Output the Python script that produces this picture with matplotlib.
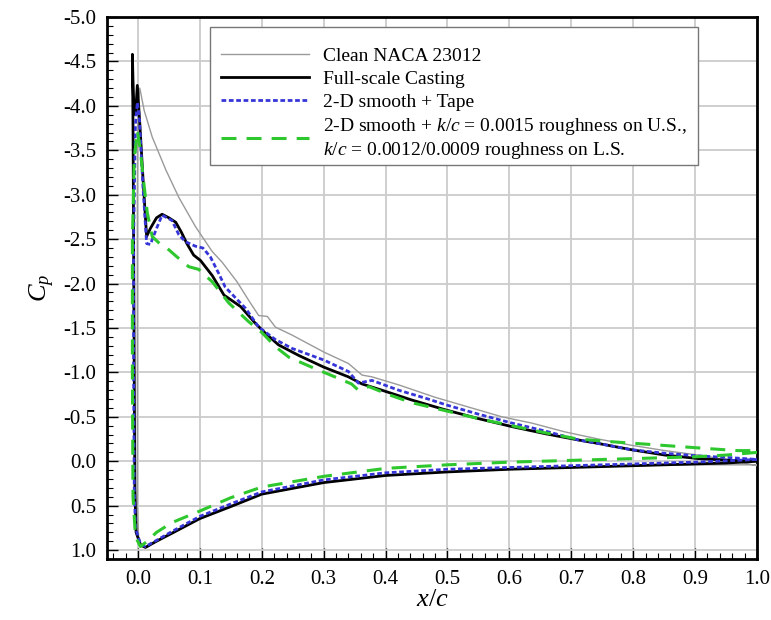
import matplotlib
matplotlib.use("Agg")
import matplotlib.pyplot as plt
from matplotlib.ticker import MultipleLocator, FormatStrFormatter
from matplotlib.patches import Rectangle

plt.rcParams['font.family'] = ['Liberation Serif', 'DejaVu Serif']
plt.rcParams['mathtext.fontset'] = 'custom'
plt.rcParams['mathtext.rm'] = 'Liberation Serif'
plt.rcParams['mathtext.it'] = 'Liberation Serif:italic'
plt.rcParams['axes.unicode_minus'] = False

# Path for each series: trailing edge (lower) -> leading edge -> trailing edge (upper)
clean_x = [1.0, 0.9, 0.8, 0.7, 0.6, 0.5, 0.4, 0.3, 0.2, 0.15, 0.1, 0.055, 0.03, 0.015, 0.006, 0.001,
           -0.001, -0.001, -0.001, 0.0, 0.003, 0.01, 0.023, 0.045, 0.066, 0.093, 0.12, 0.136, 0.16,
           0.179, 0.195, 0.209, 0.222, 0.249, 0.30, 0.34, 0.362, 0.378, 0.421, 0.48, 0.534, 0.588,
           0.636, 0.69, 0.744, 0.797, 0.851, 0.905, 0.959, 1.0]
clean_cp = [0.04, 0.04, 0.05, 0.07, 0.09, 0.12, 0.16, 0.24, 0.37, 0.50, 0.64, 0.80, 0.89, 0.97, 0.96, 0.85,
            0.5, -1.0, -3.0, -4.0, -4.20, -3.95, -3.65, -3.28, -2.97, -2.64, -2.36, -2.24, -2.02,
            -1.81, -1.64, -1.63, -1.51, -1.42, -1.23, -1.10, -0.97, -0.95, -0.86, -0.72, -0.61, -0.50,
            -0.43, -0.33, -0.25, -0.18, -0.12, -0.07, -0.01, 0.05]

cast_x = [1.0, 0.95, 0.9, 0.8, 0.7, 0.6, 0.5, 0.4, 0.3, 0.2, 0.15, 0.1, 0.055, 0.03, 0.012, 0.004,
          -0.003, -0.005, -0.006, -0.007, -0.008, -0.009, -0.007, -0.004, -0.001, 0.003, 0.008,
          0.014, 0.02, 0.03, 0.039, 0.05, 0.061, 0.07, 0.079, 0.09, 0.101, 0.12, 0.139, 0.166, 0.19,
          0.206, 0.227, 0.26, 0.30, 0.34, 0.362, 0.394, 0.442, 0.496, 0.55, 0.604, 0.658, 0.711,
          0.744, 0.797, 0.851, 0.905, 0.959, 1.0]
cast_cp = [0.0, 0.02, 0.03, 0.05, 0.07, 0.09, 0.12, 0.16, 0.24, 0.37, 0.51, 0.645, 0.81, 0.90, 0.97, 0.94,
           0.80, 0.3, -1.0, -2.5, -3.8, -4.58, -4.0, -3.9, -4.23, -3.8, -3.2,
           -2.53, -2.62, -2.74, -2.78, -2.74, -2.69, -2.58, -2.45, -2.32, -2.26, -2.09, -1.87, -1.74, -1.55,
           -1.44, -1.31, -1.19, -1.06, -0.95, -0.87, -0.80, -0.69, -0.58, -0.48, -0.39, -0.31, -0.24,
           -0.20, -0.13, -0.07, -0.03, -0.01, -0.01]

tape_x = [1.0, 0.9, 0.8, 0.7, 0.6, 0.5, 0.4, 0.3, 0.2, 0.15, 0.1, 0.055, 0.03, 0.012, 0.004, -0.004,
          -0.006, -0.007, -0.007, -0.004, -0.001, 0.002, 0.008, 0.014, 0.02, 0.03, 0.039, 0.055,
          0.066, 0.077, 0.093, 0.105, 0.117, 0.13, 0.141, 0.174, 0.195, 0.222, 0.249, 0.30, 0.34,
          0.356, 0.378, 0.421, 0.469, 0.50, 0.55, 0.604, 0.658, 0.711, 0.744, 0.797, 0.851, 0.905,
          0.959, 1.0]
tape_cp = [-0.02, 0.01, 0.03, 0.05, 0.07, 0.09, 0.13, 0.21, 0.345, 0.48, 0.62, 0.79, 0.89, 0.96, 0.93, 0.75,
           0.3, -1.0, -2.5, -3.8, -4.04, -3.9, -3.1, -2.45, -2.44, -2.62, -2.77, -2.71,
           -2.55, -2.47, -2.42, -2.40, -2.30, -2.12, -1.96, -1.72, -1.51, -1.37, -1.27, -1.14, -1.01,
           -0.88, -0.91, -0.80, -0.70, -0.63, -0.53, -0.43, -0.34, -0.24, -0.20, -0.13, -0.09, -0.06,
           -0.04, -0.02]

rough_x = [1.0, 0.95, 0.9, 0.8, 0.7, 0.6, 0.5, 0.4, 0.3, 0.2, 0.15, 0.1, 0.055, 0.03, 0.015, 0.004,
           -0.004, -0.008, -0.009, -0.009, -0.006, -0.001, 0.003, 0.009, 0.015, 0.023, 0.035, 0.045,
           0.063, 0.082, 0.098, 0.12, 0.147, 0.179, 0.2, 0.222, 0.244, 0.287, 0.318, 0.345, 0.356,
           0.373, 0.405, 0.442, 0.496, 0.55, 0.604, 0.658, 0.711, 0.765, 0.846, 0.926, 0.969, 1.0]
rough_cp = [-0.10, -0.07, -0.05, -0.03, -0.01, 0.01, 0.04, 0.08, 0.17, 0.29, 0.41, 0.56, 0.69, 0.80, 0.90, 0.96,
            0.85, 0.4, -1.0, -2.5, -3.4, -3.72, -3.55, -3.16, -2.8, -2.53, -2.45, -2.41,
            -2.30, -2.19, -2.16, -2.02, -1.78, -1.57, -1.45, -1.29, -1.17, -1.04, -0.95, -0.87, -0.80,
            -0.84, -0.75, -0.66, -0.57, -0.48, -0.40, -0.32, -0.25, -0.22, -0.18, -0.14, -0.12, -0.12]

labels = ["Clean NACA 23012", "Full-scale Casting", "2-D smooth + Tape",
          "2-D smooth + $k/c$ = 0.0015 roughness on U.S.,\n$k/c$ = 0.0012/0.0009 roughness on L.S."]
xticks = [0.0, 0.1, 0.2, 0.3, 0.4, 0.5, 0.6, 0.7, 0.8, 0.9, 1.0]
yticks = [-5.0, -4.5, -4.0, -3.5, -3.0, -2.5, -2.0, -1.5, -1.0, -0.5, 0.0, 0.5, 1.0]

W, H = 771, 620
L, R, T, B = 107, 757, 17, 559
fig = plt.figure(figsize=(W / 100, H / 100), dpi=100)
ax = fig.add_axes([L / W, 1 - B / H, (R - L) / W, (B - T) / H])

ax.plot(clean_x, clean_cp, color="#9a9a9a", lw=1.0, label=labels[0], zorder=3)
ax.plot(cast_x, cast_cp, color="black", lw=2.0, label=labels[1], zorder=4)
ax.plot(tape_x, tape_cp, color="#3535d8", lw=2.0, ls=(0, (1.7, 0.95)), label=labels[2], zorder=5)
ax.plot(rough_x, rough_cp, color="#2ec82e", lw=2.2, ls=(0, (4.9, 3.3)), label=labels[3], zorder=6)

ax.set_xlim(-0.05, 1.0)
ax.set_ylim(1.1, -5.0)
ax.set_xticks(xticks)
ax.set_yticks(yticks)
ax.xaxis.set_minor_locator(MultipleLocator(0.02))
ax.yaxis.set_minor_locator(MultipleLocator(0.1))
ax.xaxis.set_major_formatter(FormatStrFormatter('%.1f'))
ax.yaxis.set_major_formatter(FormatStrFormatter('%.1f'))
ax.tick_params(which='major', direction='in', length=8, width=1.0, labelsize=15, pad=8)
ax.tick_params(which='minor', direction='in', length=4, width=0.8)
ax.grid(True, which='major', color="#cccccc", lw=1.3)
ax.set_axisbelow(True)
for s in ax.spines.values():
    s.set_linewidth(2.0)

ax.set_xlabel("$x/c$", fontsize=19, labelpad=0)
ax.set_ylabel("$C_p$", fontsize=19, labelpad=4)

# legend frame box (pixel extents converted to axes fraction)
def axfx(px):
    return (px - L) / (R - L)

def axfy(py):
    return 1 - (py - T) / (B - T)

box = Rectangle((axfx(210), axfy(165)), axfx(698) - axfx(210), axfy(27) - axfy(165),
                transform=ax.transAxes, facecolor="white", edgecolor="#777777", lw=1.0, zorder=7)
ax.add_patch(box)

leg = ax.legend(loc='upper left', bbox_to_anchor=(axfx(221), axfy(47)), fontsize=14,
                frameon=False, handlelength=4.5, handletextpad=0.75, labelspacing=0.28,
                borderpad=0, borderaxespad=0)
leg.set_zorder(8)

fig.savefig("out.png", dpi=100)
